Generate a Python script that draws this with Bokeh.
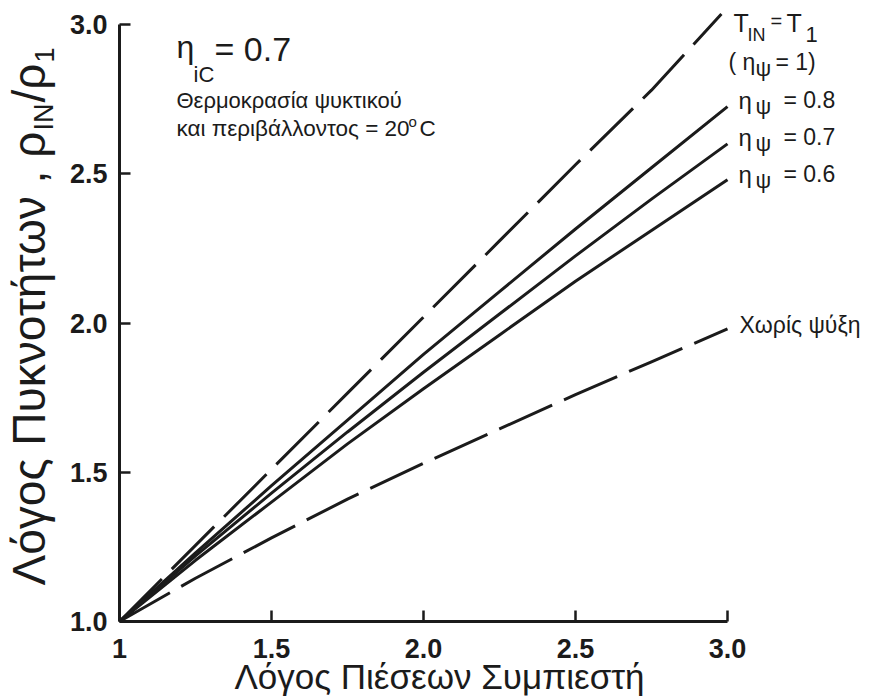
from math import pi

from bokeh.plotting import figure
from bokeh.models import Range1d, FixedTicker, Label
from bokeh.embed import file_html
from bokeh.resources import INLINE

# Compressor pressure ratio (x) and density ratio rho_IN / rho_1 (y)
pressure_ratio = [1.0, 1.25, 1.5, 1.75, 2.0, 2.25, 2.5, 2.75, 3.0]

# Perfect intercooling, T_IN = T_1 (eta_psi = 1)
ideal_ratio = [1.0, 1.25, 1.5, 1.75, 2.0, 2.25, 2.5, 2.75, 2.98]
ideal_density = [1.0, 1.255, 1.51, 1.765, 2.02, 2.275, 2.53, 2.78, 3.035]

# Intercooler effectiveness 0.8 / 0.7 / 0.6
eff_08 = [1.0, 1.23, 1.455, 1.675, 1.895, 2.105, 2.315, 2.52, 2.725]
eff_07 = [1.0, 1.22, 1.43, 1.635, 1.835, 2.03, 2.225, 2.415, 2.60]
eff_06 = [1.0, 1.205, 1.40, 1.595, 1.78, 1.96, 2.14, 2.31, 2.48]

# No charge cooling
no_cooling = [1.0, 1.145, 1.28, 1.41, 1.53, 1.645, 1.76, 1.87, 1.98]

x_ticks = [1.0, 1.5, 2.0, 2.5, 3.0]
x_tick_labels = ["1", "1.5", "2.0", "2.5", "3.0"]
y_ticks = [1.0, 1.5, 2.0, 2.5, 3.0]
y_tick_labels = ["1.0", "1.5", "2.0", "2.5", "3.0"]

W, H = 871, 697
# screen position of the origin (1, 1) and pixels per unit
X0, Y0 = 119, 621
X_PER_UNIT, Y_PER_UNIT = 304.0, 298.5
FONT = "Liberation Sans"
INK = "#1b1b1b"

# the frame fills the whole canvas; axes sit at fixed data locations
p = figure(
    width=W, height=H,
    x_range=Range1d(1 - X0 / X_PER_UNIT, 1 + (W - X0) / X_PER_UNIT),
    y_range=Range1d(1 - (H - Y0) / Y_PER_UNIT, 1 + Y0 / Y_PER_UNIT),
    min_border=0,
    output_backend="svg", toolbar_location=None,
)
p.grid.visible = False
p.outline_line_color = None
p.background_fill_color = "white"
p.border_fill_color = "white"

for ax, ticks, labels in ((p.xaxis[0], x_ticks, x_tick_labels),
                          (p.yaxis[0], y_ticks, y_tick_labels)):
    ax.fixed_location = 1.0
    ax.bounds = (1, 3)
    ax.ticker = FixedTicker(ticks=ticks)
    ax.major_label_overrides = dict(zip(ticks, labels))
    ax.axis_line_width = 3
    ax.axis_line_color = INK
    ax.major_tick_in = 11
    ax.major_tick_out = 0
    ax.major_tick_line_width = 2.5
    ax.major_tick_line_color = INK
    ax.minor_tick_line_color = None
    ax.major_label_text_font = FONT
    ax.major_label_text_font_style = "bold"
    ax.major_label_text_font_size = "27px"
    ax.major_label_text_color = INK
p.xaxis.major_label_standoff = 17
p.yaxis.major_label_standoff = 12

# curves
p.line(ideal_ratio, ideal_density, line_width=3, line_color=INK, line_dash="60 14")
p.line(pressure_ratio, eff_08, line_width=3, line_color=INK)
p.line(pressure_ratio, eff_07, line_width=3, line_color=INK)
p.line(pressure_ratio, eff_06, line_width=3, line_color=INK)
p.line(pressure_ratio, no_cooling, line_width=3, line_color=INK, line_dash="58 13")


def px_x(sx):
    return 1 + (sx - X0) / X_PER_UNIT


def px_y(sy):
    return 1 + (Y0 - sy) / Y_PER_UNIT


def put(text, sx, sy, size, angle=0.0, align="left"):
    """Place a text piece whose baseline starts at screen point (sx, sy)."""
    drop = 0.35 * size  # the label box is anchored at its middle
    if angle:
        sx -= drop
    else:
        sy -= drop
    p.add_layout(Label(
        x=px_x(sx), y=px_y(sy), text=text, angle=angle,
        text_font=FONT, text_font_size=f"{size}px", text_color=INK,
        text_align=align, text_baseline="middle",
    ))


# efficiency note, top left
put("η", 176, 58, 32)
put("iC", 193, 82, 22)
put("= 0.7", 214, 60, 34)
put("Θερμοκρασία ψυκτικού", 176, 108, 22)
put("και περιβάλλοντος = 20", 176, 136, 22.5)
put("o", 408, 126, 15)
put("C", 419, 136, 22.5)

# curve labels, right side
put("T", 733, 31, 25)
put("IN", 747, 41, 18)
put("=", 770, 27, 20)
put("T", 786, 31, 25)
put("1", 805, 42, 22)
put("( η", 728, 70, 23)
put("ψ", 755, 76, 22)
put("= 1)", 775, 70, 23)
for label, base in (("0.8", 108), ("0.7", 145), ("0.6", 182)):
    put("η", 738, base, 24)
    put("ψ", 755, base + 6, 22)
    put("= " + label, 783, base, 23)
put("Χωρίς ψύξη", 739, 333, 23)

# axis titles
put("Λόγος Πιέσεων Συμπιεστή", 439, 688, 35, align="center")
put("Λόγος Πυκνοτήτων , ρ", 45, 585, 46, angle=pi / 2)
put("IN", 53, 130, 27, angle=pi / 2)
put("/ρ", 45, 102, 46, angle=pi / 2)
put("1", 53, 62, 27, angle=pi / 2)

open("out.html", "w").write(file_html(p, INLINE))
